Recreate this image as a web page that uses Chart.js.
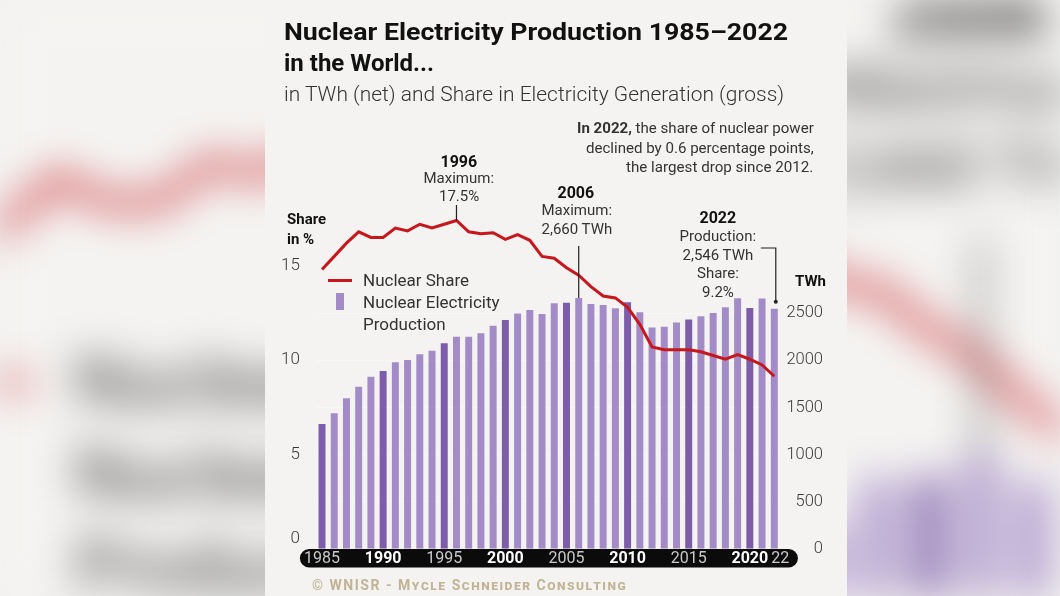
<!DOCTYPE html>
<html>
<head>
<meta charset="utf-8">
<script src="https://cdn.jsdelivr.net/npm/chart.js@4.4.0/dist/chart.umd.min.js"></script>
<style>
html, body { margin: 0; padding: 0; }
body {
    width: 1060px; height: 596px; overflow: hidden; position: relative;
    background: #f3f2f0; font-family: Roboto, "Noto Sans", sans-serif;
}
#bgWrap { position: absolute; left: 0; top: 0; width: 1060px; height: 596px; overflow: hidden; filter: blur(20px); }
#bgInner { position: absolute; left: 0; top: 0; width: 1060px; height: 596px; transform-origin: 0 0;
    transform: translate(-1450px, -795px) scale(4.2); }
.panel { position: absolute; left: 265px; top: 0; width: 582px; height: 596px; background: #f4f3f1; overflow: hidden; }
.panel canvas { position: absolute; left: 0; top: 0; }
.t { position: absolute; white-space: nowrap; }
</style>
</head>
<body>
<div id="bgWrap"><div id="bgInner"></div></div>
<div id="front"></div>
<script>
const years = [1985, 1986, 1987, 1988, 1989, 1990, 1991, 1992, 1993, 1994,
               1995, 1996, 1997, 1998, 1999, 2000, 2001, 2002, 2003, 2004,
               2005, 2006, 2007, 2008, 2009, 2010, 2011, 2012, 2013, 2014,
               2015, 2016, 2017, 2018, 2019, 2020, 2021, 2022];

// nuclear electricity production, TWh (net)
const productionTWh = [1324, 1437, 1596, 1719, 1825, 1886, 1978, 2002, 2062, 2101,
                       2179, 2249, 2249, 2285, 2366, 2426, 2496, 2532, 2489, 2603,
                       2609, 2660, 2595, 2585, 2550, 2613, 2507, 2346, 2355, 2400,
                       2430, 2465, 2500, 2560, 2657, 2553, 2653, 2546];

// nuclear share in electricity generation, %
const sharePct = [14.8, 15.5, 16.2, 16.8, 16.5, 16.5, 17.0, 16.85, 17.2, 17.0,
                  17.2, 17.4, 16.8, 16.7, 16.75, 16.4, 16.65, 16.35, 15.5, 15.4,
                  14.9, 14.5, 13.9, 13.4, 13.3, 12.8, 11.9, 10.7, 10.55, 10.55,
                  10.55, 10.45, 10.25, 10.05, 10.3, 10.05, 9.75, 9.15];

const shareTicks = [0, 5, 10, 15];
const twhTicks = [0, 500, 1000, 1500, 2000, 2500];
const labelYears = [1985, 1990, 1995, 2000, 2005, 2010, 2015, 2020, 2022];
const boldYears = [1990, 2000, 2010, 2020];

const BAR_LIGHT = "#a38bc7";
const BAR_DARK = "#7d5ca9";
const RED = "#c8161d";
const FONT = "Roboto";

Chart.defaults.font.family = FONT;

// place a text line by its baseline; optional width squeezes it to the reference
function addText(parent, html, x, base, size, weight, align, color, fitWidth, extra) {
    const el = document.createElement("div");
    el.className = "t";
    el.innerHTML = html;
    el.style.fontSize = size + "px";
    el.style.lineHeight = size + "px";
    el.style.fontWeight = weight;
    el.style.color = color;
    if (extra) Object.assign(el.style, extra);
    el.style.top = (base - 0.842 * size) + "px";
    parent.appendChild(el);
    const w = el.offsetWidth;
    const sx = fitWidth ? fitWidth / w : 1;
    const shift = align === "center" ? -w * sx / 2 : align === "right" ? -w * sx : 0;
    el.style.left = (x + shift) + "px";
    el.style.transformOrigin = "0 0";
    if (sx !== 1) el.style.transform = `scaleX(${sx})`;
    return el;
}

function addBox(parent, left, top, w, h, color) {
    const el = document.createElement("div");
    el.style.cssText = `position:absolute;left:${left}px;top:${top}px;width:${w}px;height:${h}px;background:${color}`;
    parent.appendChild(el);
}

/* -------------------------------
   Black year band under the bars
---------------------------------*/
const bandPlugin = {
    id: "yearBand",
    beforeDraw(chart) {
        const { ctx, chartArea } = chart;
        const left = chartArea.left - 16;
        const right = chartArea.right + 17.5;
        const h = 18.5;
        ctx.save();
        ctx.fillStyle = "#0b0b0b";
        ctx.beginPath();
        ctx.roundRect(left, chartArea.bottom, right - left, h, h / 2);
        ctx.fill();
        ctx.restore();
    }
};

/* -------------------------------
   Annotation leader lines
---------------------------------*/
const leaderPlugin = {
    id: "leaders",
    afterDraw(chart) {
        const { ctx } = chart;
        const { x, y, y1 } = chart.scales;
        ctx.save();
        ctx.strokeStyle = "#222";
        ctx.fillStyle = "#222";
        ctx.lineWidth = 1.2;

        let i = years.indexOf(1996);
        let px = x.getPixelForValue(i);
        ctx.beginPath();
        ctx.moveTo(px, 205);
        ctx.lineTo(px, y.getPixelForValue(sharePct[i]));
        ctx.stroke();

        i = years.indexOf(2006);
        px = x.getPixelForValue(i);
        ctx.beginPath();
        ctx.moveTo(px, 246);
        ctx.lineTo(px, y1.getPixelForValue(productionTWh[i]));
        ctx.stroke();

        i = years.indexOf(2022);
        px = x.getPixelForValue(i) + 1.5;
        const endY = y1.getPixelForValue(productionTWh[i]) - 7;
        ctx.beginPath();
        ctx.moveTo(px - 15, 248);
        ctx.lineTo(px, 248);
        ctx.lineTo(px, endY);
        ctx.stroke();
        ctx.beginPath();
        ctx.arc(px, endY, 2, 0, Math.PI * 2);
        ctx.fill();
        ctx.restore();
    }
};

function buildChart(canvas) {
    const barColors = years.map(yr => (yr % 5 === 0 ? BAR_DARK : BAR_LIGHT));
    return new Chart(canvas.getContext("2d"), {
        type: "bar",
        data: {
            labels: years,
            datasets: [
                {
                    type: "line",
                    label: "Nuclear Share",
                    data: sharePct,
                    yAxisID: "y",
                    borderColor: RED,
                    borderWidth: 3,
                    pointRadius: 0,
                    tension: 0,
                    clip: false,
                    order: 0
                },
                {
                    type: "bar",
                    label: "Nuclear Electricity Production",
                    data: productionTWh,
                    yAxisID: "y1",
                    backgroundColor: barColors,
                    borderWidth: 0,
                    barPercentage: 0.57,
                    categoryPercentage: 1,
                    order: 1
                }
            ]
        },
        options: {
            responsive: false,
            animation: false,
            layout: { padding: { left: 10, right: 24, top: 265.8, bottom: 29 } },
            plugins: { legend: { display: false }, tooltip: { enabled: false } },
            scales: {
                x: {
                    grid: { display: false, drawTicks: false },
                    border: { display: false },
                    afterFit: s => { s.height = 18; },
                    ticks: {
                        autoSkip: false,
                        maxRotation: 0,
                        padding: 0,
                        callback: (v, i) => {
                            const yr = years[i];
                            if (!labelYears.includes(yr)) return "";
                            return yr === 2022 ? "   22" : String(yr);
                        },
                        color: c => (boldYears.includes(years[c.index]) ? "#ffffff" : "#c9c9c9"),
                        font: c => ({
                            family: FONT, size: 16,
                            weight: boldYears.includes(years[c.index]) ? "bold" : "normal"
                        })
                    }
                },
                y: {
                    position: "left",
                    min: 0,
                    max: 15,
                    afterFit: s => { s.width = 40.9; },
                    afterBuildTicks: s => { s.ticks = shareTicks.map(v => ({ value: v })); },
                    grid: { display: false, drawTicks: false },
                    border: { display: false },
                    ticks: {
                        padding: 16,
                        color: "#3a3a3a",
                        font: { family: FONT, size: 17, weight: 300 },
                        callback: v => (v === 0 ? ["0", ""] : String(v))
                    }
                },
                y1: {
                    position: "right",
                    min: 0,
                    max: 3000,
                    z: 1,
                    afterFit: s => { s.width = 42.6; },
                    afterBuildTicks: s => { s.ticks = twhTicks.map(v => ({ value: v })); },
                    grid: {
                        drawTicks: false,
                        color: c => (c.tick && c.tick.value > 0 ? "rgba(255,255,255,0.33)" : "rgba(0,0,0,0)"),
                        lineWidth: 1
                    },
                    border: { display: false },
                    ticks: {
                        crossAlign: "far",
                        color: "#3a3a3a",
                        font: { family: FONT, size: 16.5, weight: 300 },
                        callback: v => String(v)
                    }
                }
            }
        },
        plugins: [bandPlugin, leaderPlugin]
    });
}

function buildPanel(host) {
    const panel = document.createElement("div");
    panel.className = "panel";
    host.appendChild(panel);

    const canvas = document.createElement("canvas");
    canvas.width = 582;
    canvas.height = 596;
    panel.appendChild(canvas);

    const dark = "#111111";
    const mid = "#333333";

    // title block
    addText(panel, "Nuclear Electricity Production 1985–2022", 19, 40, 24, 700, "left", dark, 504);
    addText(panel, "in the World...", 19, 71, 24, 700, "left", dark);
    addText(panel, "in TWh (net) and Share in Electricity Generation (gross)", 19, 101, 20, 300, "left", mid, 500);

    // note, top right
    addText(panel, "<b>In 2022,</b> the share of nuclear power", 549, 134, 15, 400, "right", mid, 237);
    addText(panel, "declined by 0.6 percentage points,", 549, 154, 15, 400, "right", mid, 228);
    addText(panel, "the largest drop since 2012.", 548, 173, 15, 400, "right", mid, 187);

    // axis titles
    addText(panel, "Share", 22, 225, 15, 700, "left", dark);
    addText(panel, "in %", 22, 245, 15, 700, "left", dark);
    addText(panel, "TWh", 561, 287, 15, 700, "right", dark);

    // annotations
    addText(panel, "1996", 194, 167, 16, 700, "center", dark);
    addText(panel, "Maximum:", 194, 184, 15, 400, "center", mid);
    addText(panel, "17.5%", 194, 202, 15, 400, "center", mid);

    addText(panel, "2006", 311, 198, 16, 700, "center", dark);
    addText(panel, "Maximum:", 312, 216, 15, 400, "center", mid);
    addText(panel, "2,660 TWh", 312, 235, 15, 400, "center", mid);

    addText(panel, "2022", 453, 223, 16, 700, "center", dark);
    addText(panel, "Production:", 453, 242, 15, 400, "center", mid);
    addText(panel, "2,546 TWh", 453, 261, 15, 400, "center", mid);
    addText(panel, "Share:", 453, 279, 15, 400, "center", mid);
    addText(panel, "9.2%", 453, 298, 15, 400, "center", mid);

    // legend
    addBox(panel, 63, 278.5, 24, 3, RED);
    addText(panel, "Nuclear Share", 98, 286, 17, 400, "left", mid);
    addBox(panel, 71, 293, 8, 17, BAR_LIGHT);
    addText(panel, "Nuclear Electricity", 98, 308, 17, 400, "left", mid);
    addText(panel, "Production", 98, 330, 17, 400, "left", mid);

    // credit
    addText(panel, "© WNISR - Mycle Schneider Consulting", 204.5, 590, 14, 700, "center", "#c1b394", 315,
        { fontVariant: "small-caps", letterSpacing: "1.5px" });

    buildChart(canvas);
}

buildPanel(document.getElementById("bgInner"));
buildPanel(document.getElementById("front"));
</script>
</body>
</html>
